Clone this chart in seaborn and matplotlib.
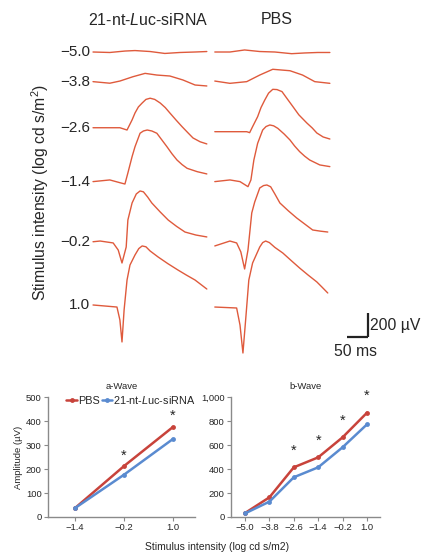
import numpy as np
import pandas as pd
import matplotlib
matplotlib.use("Agg")
import matplotlib.pyplot as plt
import seaborn as sns

# ---------------- ERG trace data (time in ms, amplitude in µV) ----------------
row_labels = ["\u22125.0", "\u22123.8", "\u22122.6", "\u22121.4", "\u22120.2", "1.0"]

luc_m50_t = [0, 40, 76, 100, 136, 171, 207, 243, 271]
luc_m50_v = [0, -4, 8, 12, 4, -12, -4, 0, 4]
pbs_m50_t = [0, 36, 71, 107, 143, 183, 214, 245, 274]
pbs_m50_v = [0, 0, 17, 4, 0, -14, -8, -4, -4]

luc_m38_t = [0, 40, 64, 95, 124, 152, 183, 214, 243, 271]
luc_m38_v = [3, -10, 8, 44, 72, 58, 50, 17, -25, -33]
pbs_m38_t = [0, 36, 76, 107, 138, 179, 209, 238, 274]
pbs_m38_v = [8, -11, 3, 58, 106, 94, 58, 3, -11]

luc_m26_t = [0, 64, 81, 93, 100, 108, 117, 126, 136, 147, 160, 172, 183, 198, 212, 226, 238, 255, 271]
luc_m26_v = [2, 2, -17, 67, 125, 175, 208, 238, 248, 238, 208, 170, 125, 65, 11, -40, -83, -115, -133]
pbs_m26_t = [0, 76, 83, 90, 102, 110, 119, 128, 138, 148, 160, 172, 186, 200, 219, 232, 243, 258, 274]
pbs_m26_v = [-31, -31, -39, 11, 94, 170, 233, 290, 322, 320, 303, 245, 178, 110, 42, 0, -42, -75, -92]

luc_m14_t = [0, 40, 64, 76, 83, 93, 100, 112, 120, 129, 140, 152, 164, 176, 188, 200, 212, 224, 248, 271]
luc_m14_v = [3, 17, -6, -17, 75, 211, 294, 406, 425, 433, 425, 406, 350, 294, 235, 183, 145, 114, 86, 67]
pbs_m14_t = [0, 36, 60, 79, 86, 93, 102, 114, 122, 131, 140, 150, 165, 179, 190, 202, 214, 226, 250, 274]
pbs_m14_v = [3, 17, 3, -39, 17, 183, 322, 433, 462, 475, 468, 447, 400, 350, 300, 253, 215, 183, 142, 128]

luc_m02_t = [0, 17, 48, 60, 69, 79, 83, 93, 103, 112, 120, 130, 140, 160, 179, 199, 219, 245, 271]
luc_m02_v = [2, 8, -8, -67, -175, -42, 183, 325, 400, 425, 418, 375, 325, 250, 183, 130, 83, 58, 42]
pbs_m02_t = [0, 36, 52, 62, 71, 79, 88, 95, 107, 116, 124, 133, 143, 155, 175, 195, 214, 233, 252, 269]
pbs_m02_v = [-33, 8, -8, -83, -225, -67, 242, 333, 450, 470, 475, 460, 400, 325, 260, 200, 150, 100, 90, 83]

luc_p10_t = [0, 57, 64, 69, 74, 81, 88, 100, 109, 117, 126, 136, 155, 178, 202, 222, 243, 271]
luc_p10_v = [0, -17, -125, -308, -42, 208, 333, 417, 470, 492, 485, 450, 400, 345, 292, 250, 208, 133]
pbs_p10_t = [0, 52, 60, 67, 74, 81, 90, 107, 114, 121, 130, 143, 162, 182, 202, 222, 243, 255, 269]
pbs_p10_v = [-17, -25, -167, -400, -100, 208, 350, 483, 520, 533, 520, 480, 433, 370, 308, 250, 192, 150, 100]

# ---------------- Amplitude summary data ----------------
a_x = [-1.4, -0.2, 1.0]
a_pbs = [37, 212, 375]
a_luc = [37, 176, 325]
a_star_x = [-0.2, 1.0]

b_x = [-5.0, -3.8, -2.6, -1.4, -0.2, 1.0]
b_pbs = [33, 164, 414, 497, 664, 869]
b_luc = [30, 128, 331, 414, 581, 772]
b_star_x = [-2.6, -1.4, -0.2, 1.0]

a_ticks = [0, 100, 200, 300, 400, 500]
b_ticks = [0, 200, 400, 600, 800, 1000]
b_ticklabels = ["0", "200", "400", "600", "800", "1,000"]

# ---------------- styling ----------------
sns.set_style("white")
plt.rcParams["font.family"] = ["Liberation Sans", "DejaVu Sans"]
plt.rcParams["mathtext.fontset"] = "custom"
plt.rcParams["mathtext.rm"] = "Liberation Sans"
plt.rcParams["mathtext.it"] = "Liberation Sans:italic"

W, H = 424, 552
fig = plt.figure(figsize=(W / 100, H / 100), dpi=100)

def px_axes(x0, y0, x1, y1):
    return fig.add_axes([x0 / W, 1 - y1 / H, (x1 - x0) / W, (y1 - y0) / H])

trace_color = "#df5a3c"
red = "#c8433b"
blue = "#5a8bd0"

# ---------------- top: ERG traces ----------------
ax = px_axes(80, 10, 400, 365)
ax.set_xlim(-31, 731)
ax.set_ylim(-500, 2458)
ax.axis("off")

row_offsets = [2108, 1858, 1475, 1025, 525, 0]
pbs_shift = 290
luc_traces = [(luc_m50_t, luc_m50_v), (luc_m38_t, luc_m38_v), (luc_m26_t, luc_m26_v),
              (luc_m14_t, luc_m14_v), (luc_m02_t, luc_m02_v), (luc_p10_t, luc_p10_v)]
pbs_traces = [(pbs_m50_t, pbs_m50_v), (pbs_m38_t, pbs_m38_v), (pbs_m26_t, pbs_m26_v),
              (pbs_m14_t, pbs_m14_v), (pbs_m02_t, pbs_m02_v), (pbs_p10_t, pbs_p10_v)]

for i, off in enumerate(row_offsets):
    t, v = luc_traces[i]
    sns.lineplot(x=np.array(t), y=np.array(v) + off, ax=ax, color=trace_color,
                 lw=1.0, estimator=None, sort=False)
    t, v = pbs_traces[i]
    sns.lineplot(x=np.array(t) + pbs_shift, y=np.array(v) + off, ax=ax, color=trace_color,
                 lw=1.0, estimator=None, sort=False)
    ax.text(-7, off, row_labels[i], ha="right", va="center", fontsize=11)

ax.text(131, 2375, r"21-nt-$\it{L}$uc-siRNA", ha="center", va="center", fontsize=11.5)
ax.text(438, 2375, "PBS", ha="center", va="center", fontsize=11.5)
ax.text(-127, 940, r"Stimulus intensity (log cd s/m$^2$)", rotation=90,
        ha="center", va="center", fontsize=11.3, clip_on=False)

# scale bar
ax.plot([605, 655], [-267, -267], color="#222222", lw=1.6, solid_capstyle="butt")
ax.plot([655, 655], [-267, -67], color="#222222", lw=1.6, solid_capstyle="butt")
ax.text(660, -175, "200 \u00b5V", ha="left", va="center", fontsize=11.3)
ax.text(626, -385, "50 ms", ha="center", va="center", fontsize=11.3)

# ---------------- bottom: a-wave & b-wave ----------------
def style_small(axx):
    for s in ["top", "right"]:
        axx.spines[s].set_visible(False)
    for s in ["left", "bottom"]:
        axx.spines[s].set_color("#8a8a8a")
        axx.spines[s].set_linewidth(1.0)
    axx.tick_params(axis="both", which="both", direction="out", length=3, width=0.8,
                    color="#8a8a8a", labelsize=6.8, pad=1.5, bottom=True, left=True)
    axx.set_xlabel("")
    axx.set_ylabel("")

axa = px_axes(48, 397, 195, 517)
sns.lineplot(x=a_x, y=a_pbs, ax=axa, color=red, lw=1.8, marker="o", markersize=3.5,
             markeredgewidth=0, label="PBS")
sns.lineplot(x=a_x, y=a_luc, ax=axa, color=blue, lw=1.8, marker="o", markersize=3.5,
             markeredgewidth=0, label=r"21-nt-$\it{L}$uc-siRNA")
axa.set_xlim(-2.06, 1.54)
axa.set_ylim(0, 500)
axa.set_xticks(a_x)
axa.set_xticklabels(["\u22121.4", "\u22120.2", "1.0"])
axa.set_yticks(a_ticks)
style_small(axa)
axa.set_title("a-Wave", fontsize=6.8, pad=6)
axa.set_ylabel("Amplitude (\u00b5V)", fontsize=6.8, labelpad=2)
axa.legend(loc="upper left", bbox_to_anchor=(0.08, 1.08), ncol=2, frameon=False,
           fontsize=7.8, handlelength=1.0, handletextpad=0.1, columnspacing=0.15,
           borderaxespad=0.2)
for xs in a_star_x:
    yv = max(a_pbs[a_x.index(xs)], a_luc[a_x.index(xs)])
    axa.text(xs, yv + 45, "*", ha="center", va="center", fontsize=10.5)

axb = px_axes(231, 397, 380, 517)
sns.lineplot(x=b_x, y=b_pbs, ax=axb, color=red, lw=1.8, marker="o", markersize=3.5,
             markeredgewidth=0, legend=False)
sns.lineplot(x=b_x, y=b_luc, ax=axb, color=blue, lw=1.8, marker="o", markersize=3.5,
             markeredgewidth=0, legend=False)
axb.set_xlim(-5.69, 1.64)
axb.set_ylim(0, 1000)
axb.set_xticks(b_x)
axb.set_xticklabels(["\u22125.0", "\u22123.8", "\u22122.6", "\u22121.4", "\u22120.2", "1.0"])
axb.set_yticks(b_ticks)
axb.set_yticklabels(b_ticklabels)
style_small(axb)
axb.set_title("b-Wave", fontsize=6.8, pad=6)
for xs in b_star_x:
    yv = b_pbs[b_x.index(xs)]
    axb.text(xs, yv + 140, "*", ha="center", va="center", fontsize=10.5)

fig.text(217 / W, 1 - 547 / H, "Stimulus intensity (log cd s/m2)", ha="center",
         va="center", fontsize=7.5)

fig.savefig("out.png", dpi=100)
